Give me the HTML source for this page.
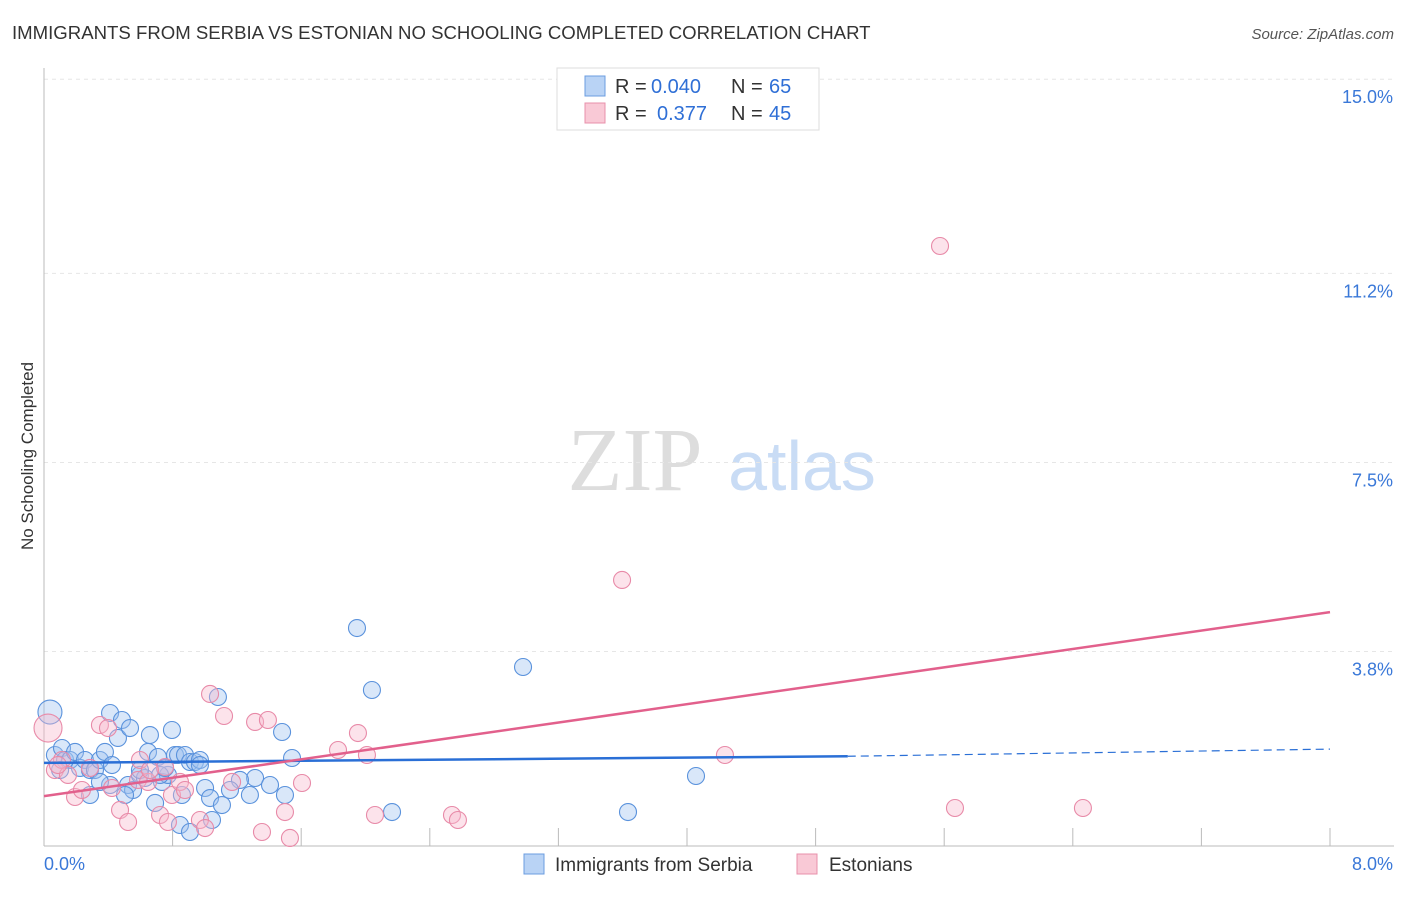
<!DOCTYPE html>
<html><head><meta charset="utf-8"><style>
body{margin:0;background:#fff;font-family:"Liberation Sans",sans-serif}
</style></head><body>
<svg id="c" width="1406" height="892" xmlns="http://www.w3.org/2000/svg">
<text x="12" y="39" font-size="18.6" fill="#333">IMMIGRANTS FROM SERBIA VS ESTONIAN NO SCHOOLING COMPLETED CORRELATION CHART</text>
<text x="1394" y="39" font-size="15" fill="#555" font-style="italic" text-anchor="end">Source: ZipAtlas.com</text>
<text x="33" y="456" font-size="17" fill="#333" transform="rotate(-90 33 456)" text-anchor="middle">No Schooling Completed</text>
<g>
<text x="635" y="490" font-size="90" fill="#ddd" font-family="Liberation Serif,serif" text-anchor="middle">ZIP</text>
<text x="802" y="490" font-size="70" fill="#c9dcf5" text-anchor="middle">atlas</text>
</g>
<g id="grid"></g><g id="pts"></g><g id="lines"></g>
<g>
<rect x="557" y="68" width="262" height="62" fill="#fff" stroke="#ddd"/>
<rect x="585" y="76" width="20" height="20" fill="#b9d3f5" stroke="#6b9de0"/>
<rect x="585" y="103" width="20" height="20" fill="#f9c9d6" stroke="#e890ab"/>
<text x="615" y="93" font-size="20" fill="#333">R =</text><text x="651" y="93" font-size="20" fill="#2f6fd6">0.040</text>
<text x="731" y="93" font-size="20" fill="#333">N =</text><text x="769" y="93" font-size="20" fill="#2f6fd6">65</text>
<text x="615" y="120" font-size="20" fill="#333">R =</text><text x="657" y="120" font-size="20" fill="#2f6fd6">0.377</text>
<text x="731" y="120" font-size="20" fill="#333">N =</text><text x="769" y="120" font-size="20" fill="#2f6fd6">45</text>
</g>
<g>
<rect x="524" y="854" width="20" height="20" fill="#b9d3f5" stroke="#6b9de0"/>
<text x="555" y="871" font-size="19" fill="#333">Immigrants from Serbia</text>
<rect x="797" y="854" width="20" height="20" fill="#f9c9d6" stroke="#e890ab"/>
<text x="829" y="871" font-size="19" fill="#333">Estonians</text>
</g>
</svg>
<script>
const yTicks=[15.0,11.2,7.5,3.8];
const yTickLabels=["15.0%","11.2%","7.5%","3.8%"];
const xTickLabels=["0.0%","8.0%"];
const bluePx=[[50,712],[55,755],[62,748],[65,760],[70,760],[75,752],[80,768],[85,760],[90,770],[95,770],[100,760],[105,752],[110,713],[112,765],[118,738],[122,720],[128,785],[130,728],[133,790],[140,775],[145,778],[148,752],[150,735],[155,803],[158,757],[162,782],[168,775],[172,730],[175,755],[178,755],[182,795],[185,755],[190,762],[195,762],[200,760],[205,788],[210,798],[212,820],[218,697],[222,805],[180,825],[190,832],[250,795],[255,778],[270,785],[282,732],[285,795],[292,758],[357,628],[372,690],[392,812],[523,667],[628,812],[696,776],[90,795],[60,770],[125,795],[160,775],[200,765],[240,780],[110,785],[140,770],[100,782],[165,768],[230,790]];
const pinkPx=[[48,728],[55,770],[62,760],[68,775],[75,797],[82,790],[90,768],[100,725],[108,728],[112,788],[120,810],[128,822],[138,780],[140,760],[148,782],[160,815],[165,767],[168,822],[172,795],[180,782],[185,790],[200,820],[205,828],[210,694],[224,716],[232,782],[255,722],[262,832],[268,720],[285,812],[290,838],[302,783],[338,750],[358,733],[367,755],[375,815],[452,815],[458,820],[622,580],[725,755],[940,246],[955,808],[1083,808],[58,765],[150,770]];
const serbiaX=bluePx.map(p=>+((p[0]-44)/160.75).toFixed(3));
const serbiaY=bluePx.map(p=>+((845.7-p[1])/51.1).toFixed(3));
const estoniaX=pinkPx.map(p=>+((p[0]-44)/160.75).toFixed(3));
const estoniaY=pinkPx.map(p=>+((845.7-p[1])/51.1).toFixed(3));
const blueTrend=[[0,1.62],[5.0,1.75],[8,1.89]];
const pinkTrend=[[0,0.97],[8,4.57]];
const X=v=>44+v*160.75, Y=v=>845.7-v*51.1;
const NS="http://www.w3.org/2000/svg";
function mk(t,a,p){const e=document.createElementNS(NS,t);for(const k in a)e.setAttribute(k,a[k]);p.appendChild(e);return e;}
const g=document.getElementById('grid');
yTicks.forEach((v,i)=>{
 const l=mk('line',{x1:44,x2:1394,y1:Y(v),y2:Y(v),stroke:'#e6e6e6','stroke-dasharray':'4,4'},g);
 
 
 const t=mk('text',{x:1393,y:Y(v)+24,'font-size':18,fill:'#3a78d8','text-anchor':'end'},g);t.textContent=yTickLabels[i];
 
 
});
mk('line',{x1:44,x2:44,y1:68,y2:846,stroke:'#bbb'},g);
mk('line',{x1:44,x2:1394,y1:846,y2:846,stroke:'#bbb'},g);
for(let i=0;i<=10;i++){const x=X(i*0.8);mk('line',{x1:x,x2:x,y1:828,y2:846,stroke:'#bbb'},g);}
[[0,'start'],[8,'end']].forEach((a,i)=>{const t=mk('text',{x:i?1393:44,y:870,'font-size':18,fill:'#3a78d8','text-anchor':a[1]},g);t.textContent=xTickLabels[i];
 
 });
const P=document.getElementById('pts');
serbiaX.forEach((x,i)=>{const c=mk('circle',{cx:X(x),cy:Y(serbiaY[i]),r:i==0?12:8.5,fill:'rgba(160,195,240,0.4)',stroke:'#5a92dc','stroke-width':1.1},P);
 
 });
estoniaX.forEach((x,i)=>{const c=mk('circle',{cx:X(x),cy:Y(estoniaY[i]),r:i==0?14:8.5,fill:'rgba(248,185,205,0.4)',stroke:'#e88aa8','stroke-width':1.1},P);
 
 });
const L=document.getElementById('lines');
let b=mk('line',{x1:X(blueTrend[0][0]),y1:Y(blueTrend[0][1]),x2:X(blueTrend[1][0]),y2:Y(blueTrend[1][1]),stroke:'#2a6fd6','stroke-width':2.5},L);


let bd=mk('line',{x1:X(blueTrend[1][0]),y1:Y(blueTrend[1][1]),x2:X(blueTrend[2][0]),y2:Y(blueTrend[2][1]),stroke:'#2a6fd6','stroke-width':1.2,'stroke-dasharray':'8,5'},L);


let pl=mk('line',{x1:X(pinkTrend[0][0]),y1:Y(pinkTrend[0][1]),x2:X(pinkTrend[1][0]),y2:Y(pinkTrend[1][1]),stroke:'#e2608c','stroke-width':2.5},L);


</script>
</body></html>
